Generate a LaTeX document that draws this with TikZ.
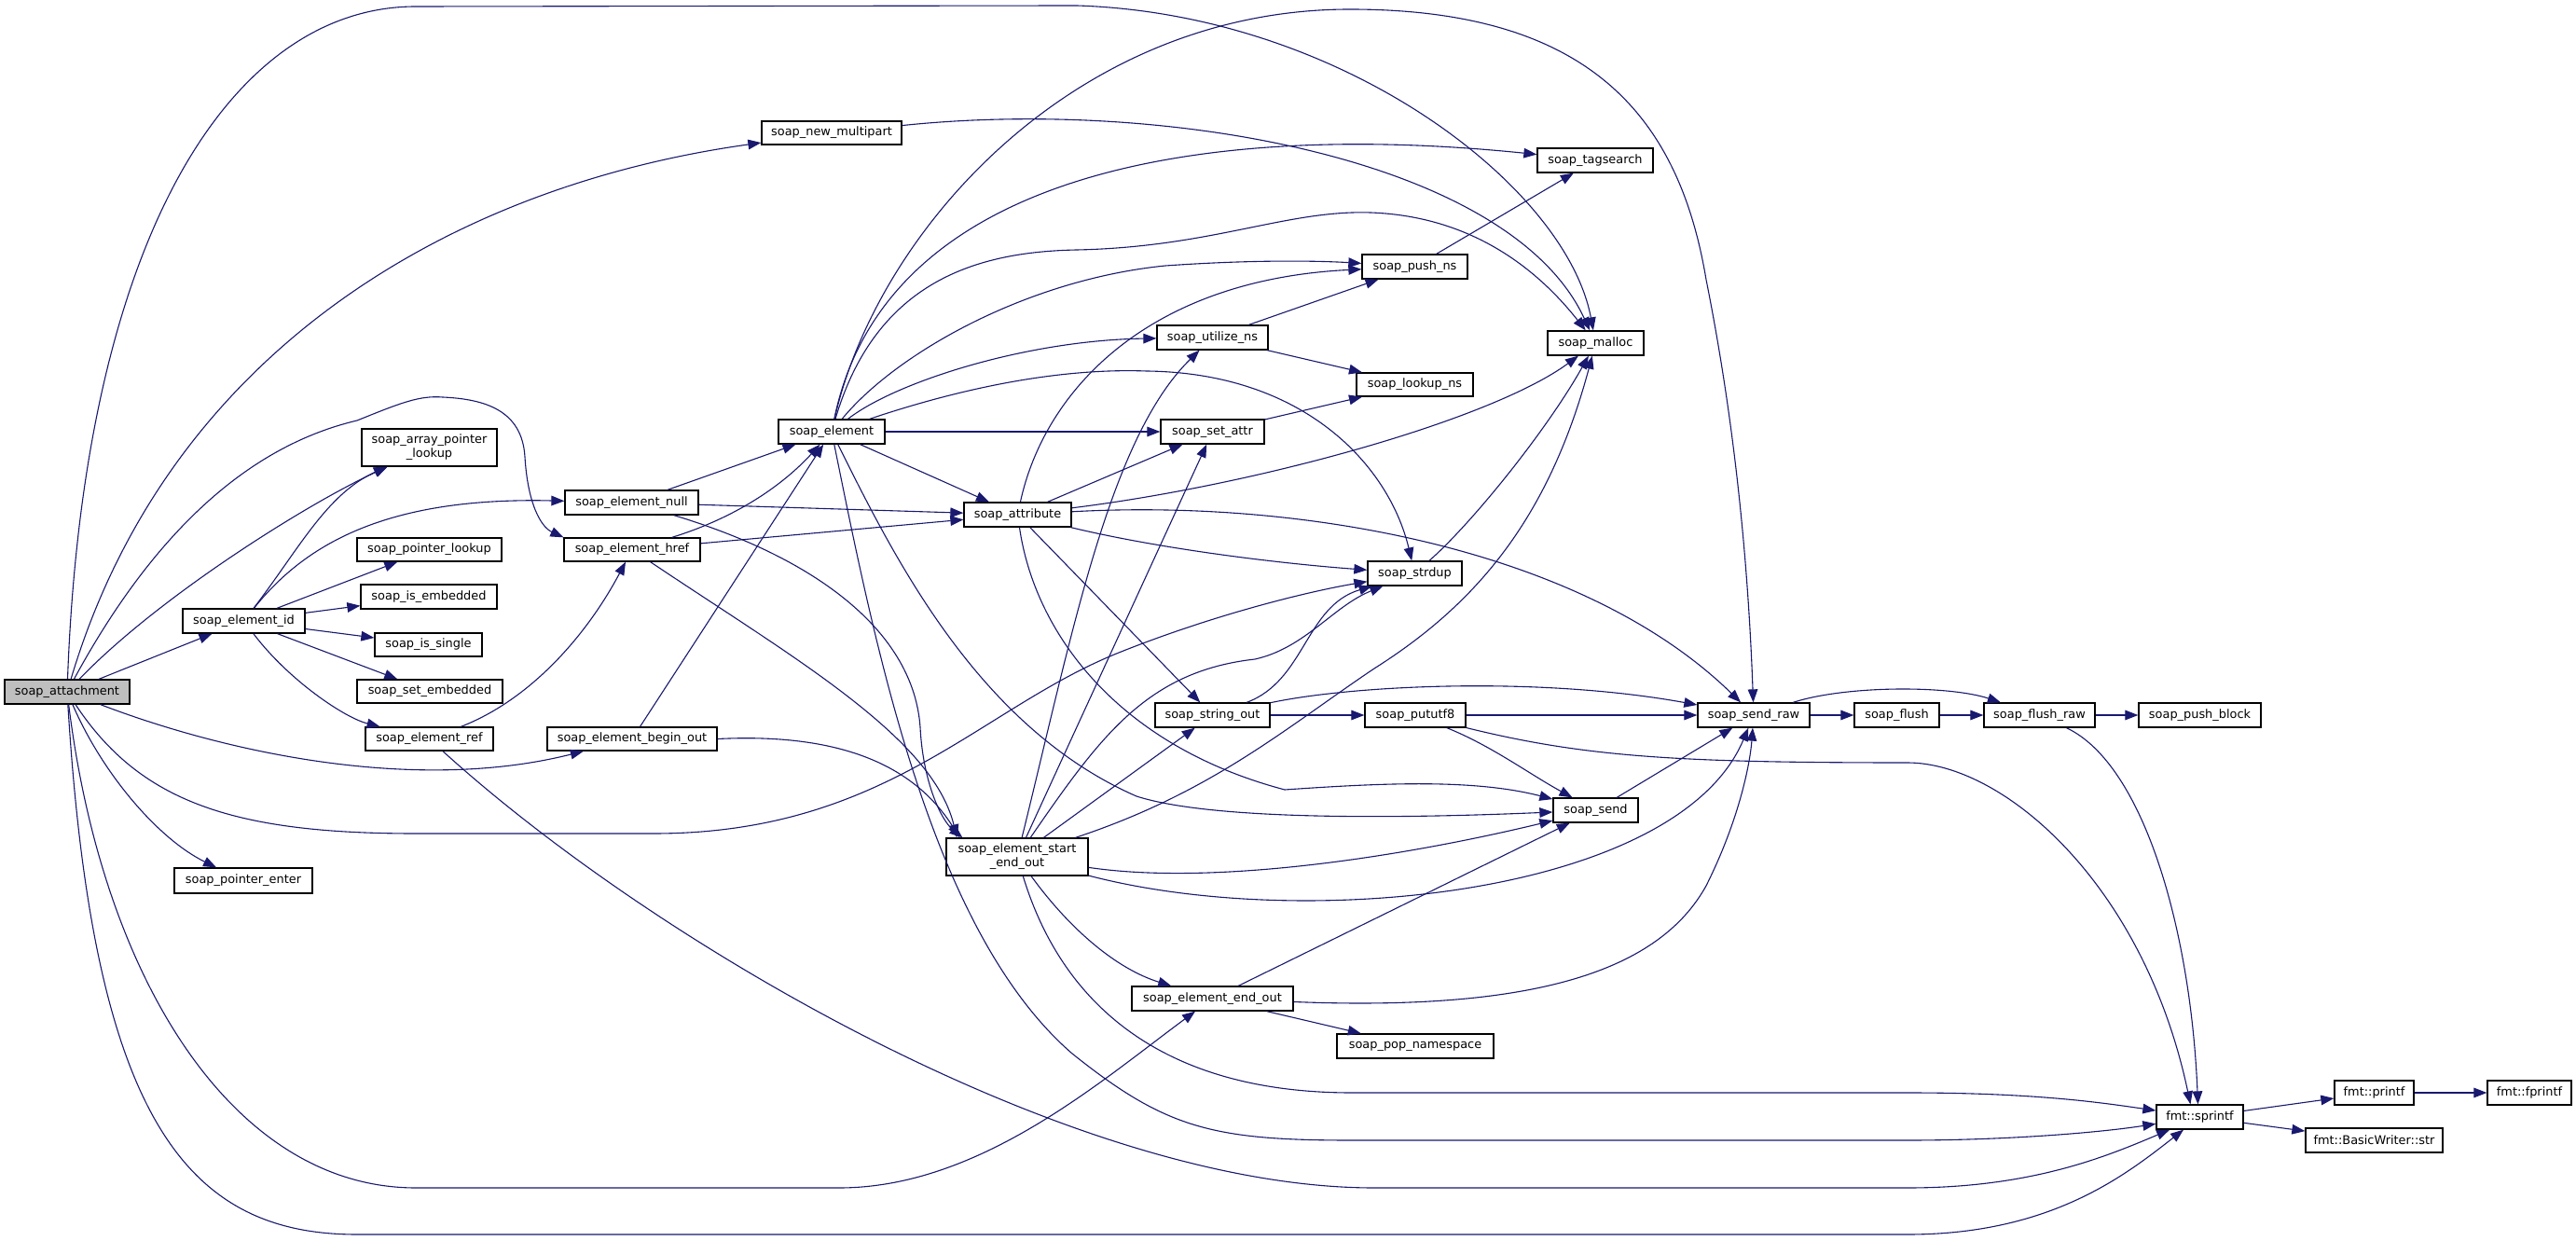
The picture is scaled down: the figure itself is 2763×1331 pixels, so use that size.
\documentclass[tikz,border=0pt]{standalone}
\usepackage{fontspec}
\setmainfont{DejaVu Sans}
\usetikzlibrary{arrows.meta,calc}
\definecolor{edgec}{HTML}{191970}
\definecolor{rootfill}{HTML}{BFBFBF}
\newcommand\mknode[7][]{\node[nbox,#1,minimum width={(#5-#3)*0.5pt},minimum height={(#6-#4)*0.5pt}] (#2) at ({(#3+#5)/2},{(#4+#6)/2}) {#7};}
\begin{document}
\begin{tikzpicture}[x=0.5pt,y=-0.5pt,
  nbox/.style={draw=black,line width=0.65pt,fill=white,inner sep=0pt,align=center,font=\fontsize{6.45}{7.6}\selectfont},
  ed/.style={draw=edgec,line width=0.55pt,-{Triangle[length=7pt,width=5.3pt]}}]
\fill[white] (0,0) rectangle (2763,1331);
\useasboundingbox (0,0) rectangle (2763,1331);
% nodes
\mknode[fill=rootfill]{attach}{5}{729}{139}{755}{soap\_attachment}
\mknode{newmp}{817}{130}{967}{155}{soap\_new\_multipart}
\mknode{arrlk}{388}{460}{533}{500}{soap\_array\_pointer\\\_lookup}
\mknode{elnull}{606}{526}{749}{552}{soap\_element\_null}
\mknode{elhref}{605}{577}{751}{602}{soap\_element\_href}
\mknode{element}{835}{450}{949}{476}{soap\_element}
\mknode{ptrlk}{383}{577}{538}{602}{soap\_pointer\_lookup}
\mknode{isemb}{387}{627}{533}{653}{soap\_is\_embedded}
\mknode{elid}{196}{653}{327}{679}{soap\_element\_id}
\mknode{issing}{402}{679}{517}{704}{soap\_is\_single}
\mknode{setemb}{383}{729}{539}{754}{soap\_set\_embedded}
\mknode{elref}{392}{780}{529}{805}{soap\_element\_ref}
\mknode{begout}{587}{780}{769}{805}{soap\_element\_begin\_out}
\mknode{ptrent}{187}{931}{335}{958}{soap\_pointer\_enter}
\mknode{tags}{1649}{159}{1773}{185}{soap\_tagsearch}
\mknode{pushns}{1461}{273}{1574}{299}{soap\_push\_ns}
\mknode{malloc}{1660}{355}{1763}{381}{soap\_malloc}
\mknode{util}{1241}{349}{1360}{375}{soap\_utilize\_ns}
\mknode{lookns}{1455}{400}{1580}{425}{soap\_lookup\_ns}
\mknode{setattr}{1245}{450}{1356}{476}{soap\_set\_attr}
\mknode{attr}{1034}{539}{1149}{565}{soap\_attribute}
\mknode{strdup}{1467}{602}{1568}{628}{soap\_strdup}
\mknode{strout}{1239}{754}{1362}{780}{soap\_string\_out}
\mknode{pututf}{1464}{754}{1572}{780}{soap\_pututf8}
\mknode{sendraw}{1821}{754}{1941}{780}{soap\_send\_raw}
\mknode{send}{1666}{856}{1757}{882}{soap\_send}
\mknode{startend}{1015}{899}{1167}{939}{soap\_element\_start\\\_end\_out}
\mknode{endout}{1214}{1058}{1387}{1084}{soap\_element\_end\_out}
\mknode{popns}{1434}{1109}{1602}{1135}{soap\_pop\_namespace}
\mknode{flush}{1989}{754}{2080}{780}{soap\_flush}
\mknode{flushraw}{2128}{754}{2247}{780}{soap\_flush\_raw}
\mknode{pushblk}{2294}{754}{2425}{780}{soap\_push\_block}
\mknode{sprintf}{2313}{1185}{2406}{1211}{fmt::sprintf}
\mknode{printf}{2504}{1159}{2589}{1185}{fmt::printf}
\mknode{fprintf}{2668}{1159}{2758}{1185}{fmt::fprintf}
\mknode{bwstr}{2473}{1210}{2620}{1236}{fmt::BasicWriter::str}
% edges from soap_attachment
\draw[ed] (attach) .. controls (90,250) and (250,7) .. (446,7) -- (1155,6) .. controls (1440,15) and (1680,200) .. (malloc);
\draw[ed] (attach) .. controls (180,380) and (480,200) .. (newmp);
\draw[ed] (attach) .. controls (160,580) and (260,480) .. (383,451) .. controls (430,432) and (450,424) .. (475,426) .. controls (520,428) and (560,440) .. (563,490) .. controls (566,540) and (580,565) .. (elhref.north west);
\draw[ed] (attach) .. controls (170,640) and (330,540) .. (arrlk);
\draw[ed] (attach) -- (elid);
\draw[ed] (attach) .. controls (110,830) and (170,900) .. (ptrent);
\draw[ed] (attach) .. controls (250,810) and (450,850) .. (begout);
\draw[ed] (attach) .. controls (150,860) and (250,894) .. (446,894) -- (701,894) .. controls (950,894) and (1050,760) .. (1200,700) .. controls (1300,660) and (1400,635) .. (strdup);
\draw[ed] (attach) .. controls (110,1050) and (250,1274) .. (446,1274) -- (900,1274) .. controls (1050,1274) and (1180,1160) .. (endout);
\draw[ed] (attach) .. controls (100,1200) and (200,1324) .. (383,1324) -- (2046,1324) .. controls (2200,1324) and (2280,1260) .. (sprintf);
% soap_element_id
\draw[ed] (elid) .. controls (320,590) and (350,530) .. (arrlk);
\draw[ed] (elid) .. controls (330,580) and (420,533) .. (elnull);
\draw[ed] (elid) -- (ptrlk);
\draw[ed] (elid) -- (isemb);
\draw[ed] (elid) -- (issing);
\draw[ed] (elid) -- (setemb);
\draw[ed] (elid) .. controls (310,730) and (370,770) .. (elref);
% soap_element_ref
\draw[ed] (elref) .. controls (570,750) and (630,680) .. (elhref);
\draw[ed] (elref) .. controls (700,1010) and (1150,1274) .. (1474,1274) -- (2046,1274) .. controls (2180,1274) and (2260,1240) .. (sprintf);
% soap_element_begin_out
\draw[ed] (begout) -- (element);
\draw[ed] (begout.east) .. controls (900,786) and (980,820) .. ($(startend.north west)+(15,0)$);
% soap_element_null / href
\draw[ed] (elnull) -- (element);
\draw[ed] (elnull) -- (attr);
\draw[ed] (elnull) .. controls (880,600) and (980,680) .. (987,780) .. controls (990,840) and (1010,880) .. ($(startend.north west)+(18,0)$);
\draw[ed] (elhref) .. controls (790,555) and (840,520) .. (element);
\draw[ed] (elhref) -- (attr);
\draw[ed] (elhref) .. controls (850,705) and (1000,790) .. ($(startend.north west)+(12,0)$);
% soap_element
\draw[ed] (element) .. controls (950,180) and (1300,130) .. (tags);
\draw[ed] (element) .. controls (940,300) and (1050,270) .. (1155,268) .. controls (1300,265) and (1380,225) .. (1470,228) .. controls (1580,232) and (1650,290) .. (malloc);
\draw[ed] (element) .. controls (960,380) and (1100,300) .. (1250,285) .. controls (1350,278) and (1420,280) .. (pushns);
\draw[ed] (element) .. controls (960,410) and (1100,365) .. (util);
\draw[ed] (element) .. controls (1050,410) and (1150,395) .. (1230,398) .. controls (1400,400) and (1490,500) .. (strdup);
\draw[ed] (element) -- (setattr);
\draw[ed] (element) -- (attr);
\draw[ed] (element) .. controls (960,600) and (1050,780) .. (1219,854) .. controls (1300,880) and (1500,878) .. (send);
\draw[ed] (element) .. controls (940,700) and (1000,1000) .. (1150,1130) .. controls (1250,1210) and (1300,1223) .. (1450,1223) -- (2046,1223) .. controls (2150,1223) and (2250,1215) .. (sprintf);
\draw[ed] (element) .. controls (940,250) and (1150,10) .. (1448,10) .. controls (1700,10) and (1800,120) .. (1830,300) .. controls (1860,450) and (1875,600) .. (sendraw);
% soap_attribute
\draw[ed] (attr) .. controls (1120,420) and (1230,300) .. (pushns);
\draw[ed] (attr) -- (setattr);
\draw[ed] (attr) .. controls (1350,520) and (1600,450) .. (malloc);
\draw[ed] (attr) .. controls (1250,590) and (1380,605) .. (strdup);
\draw[ed] (attr) -- (strout);
\draw[ed] (attr) .. controls (1110,680) and (1200,800) .. (1378,847) .. controls (1480,840) and (1580,835) .. (send);
\draw[ed] (attr) .. controls (1400,535) and (1700,590) .. (sendraw);
% others
\draw[ed] (util) -- (pushns);
\draw[ed] (util) -- (lookns);
\draw[ed] (setattr) -- (lookns);
\draw[ed] (pushns) -- (tags);
\draw[ed] (newmp) .. controls (1250,105) and (1620,170) .. (malloc);
\draw[ed] (strdup) .. controls (1580,560) and (1660,460) .. (malloc);
% soap_element_start_end_out
\draw[ed] (startend) .. controls (1150,680) and (1190,470) .. (util);
\draw[ed] (startend) -- (setattr);
\draw[ed] (startend) .. controls (1180,790) and (1230,720) .. (1346,707) .. controls (1400,695) and (1430,650) .. (strdup);
\draw[ed] (startend) -- (strout);
\draw[ed] (startend) .. controls (1300,850) and (1380,780) .. (1474,717) .. controls (1580,650) and (1660,560) .. (malloc);
\draw[ed] (startend) .. controls (1300,950) and (1500,920) .. (send);
\draw[ed] (startend) .. controls (1400,1000) and (1800,960) .. (sendraw);
\draw[ed] (startend) .. controls (1150,1000) and (1200,1040) .. (endout);
\draw[ed] (startend) .. controls (1140,1080) and (1250,1172) .. (1450,1172) -- (2046,1172) .. controls (2180,1172) and (2250,1182) .. (sprintf);
% soap_string_out / pututf8
\draw[ed] (strout) .. controls (1400,730) and (1400,650) .. (strdup);
\draw[ed] (strout) -- (pututf);
\draw[ed] (strout) .. controls (1450,735) and (1650,725) .. (sendraw);
\draw[ed] (pututf) -- (sendraw);
\draw[ed] (pututf) .. controls (1600,800) and (1640,830) .. (send);
\draw[ed] (pututf) .. controls (1700,812) and (1800,818) .. (2046,818) .. controls (2150,818) and (2300,950) .. ($(sprintf.north)+(-10,0)$);
% send, end_out
\draw[ed] (send) -- (sendraw);
\draw[ed] (endout) -- (send);
\draw[ed] (endout) .. controls (1650,1085) and (1780,1040) .. (1830,950) .. controls (1865,880) and (1877,820) .. (sendraw);
\draw[ed] (endout) -- (popns);
% flush chain
\draw[ed] (sendraw) -- (flush);
\draw[ed] (flush) -- (flushraw);
\draw[ed] (flushraw) -- (pushblk);
\draw[ed] (sendraw) .. controls (1980,735) and (2090,735) .. (flushraw);
\draw[ed] (flushraw) .. controls (2300,820) and (2350,1000) .. ($(sprintf.north)+(-2,0)$);
\draw[ed] (sprintf) -- (printf);
\draw[ed] (sprintf) -- (bwstr);
\draw[ed] (printf) -- (fprintf);
\end{tikzpicture}
\end{document}
